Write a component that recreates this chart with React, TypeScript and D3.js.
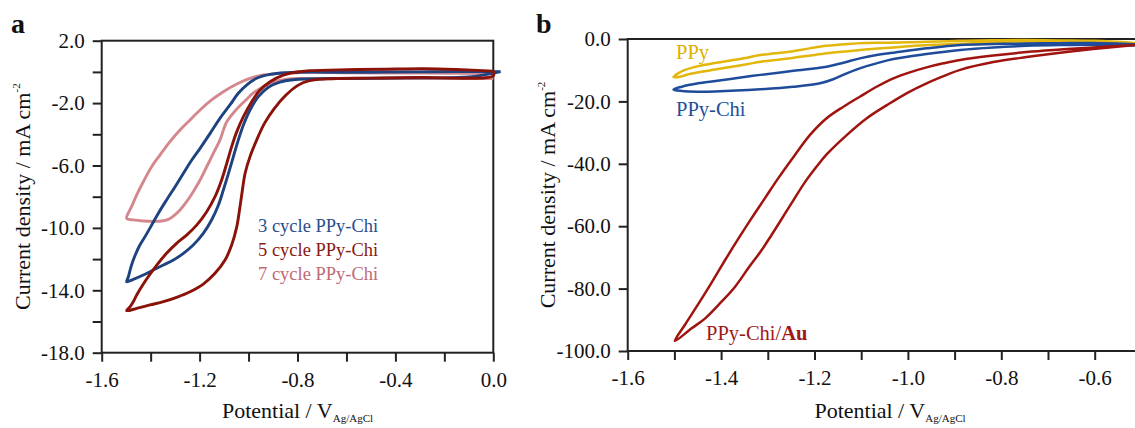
import { useEffect, useRef } from 'react';
import * as d3 from 'd3';

type Pt = [number, number];

// panel a: potential (V vs Ag/AgCl), current density (mA cm-2); upper branch from the right end to the tip, then back
const cycle3: Pt[] = [
  [0.03, 0.02], [-0.15, 0.02], [-0.3, 0.0], [-0.45, -0.01], [-0.6, -0.03], [-0.749, -0.01], [-0.844, -0.05],
  [-0.912, -0.16], [-0.967, -0.41], [-1.008, -0.84], [-1.042, -1.37], [-1.076, -2.12], [-1.117, -2.98],
  [-1.157, -3.94], [-1.198, -4.9], [-1.232, -5.65], [-1.266, -6.5], [-1.3, -7.36], [-1.335, -8.21],
  [-1.369, -9.07], [-1.396, -9.82], [-1.423, -10.56], [-1.444, -11.1], [-1.46, -11.63], [-1.471, -12.06],
  [-1.482, -12.59], [-1.491, -13.13], [-1.498, -13.45],
  [-1.471, -13.3], [-1.43, -13.02], [-1.389, -12.7], [-1.348, -12.38], [-1.307, -12.06], [-1.266, -11.63],
  [-1.226, -11.1], [-1.185, -10.35], [-1.151, -9.49], [-1.123, -8.53], [-1.103, -7.57], [-1.082, -6.5],
  [-1.062, -5.43], [-1.042, -4.37], [-1.021, -3.4], [-0.994, -2.44], [-0.96, -1.59], [-0.919, -0.98],
  [-0.872, -0.65], [-0.817, -0.5], [-0.749, -0.45], [-0.6, -0.42], [-0.3, -0.38], [-0.1, -0.33], [0.03, 0.02],
];
const cycle5: Pt[] = [
  [0.0, 0.05], [-0.15, 0.15], [-0.28, 0.2], [-0.45, 0.17], [-0.6, 0.14], [-0.749, 0.08], [-0.79, 0.02],
  [-0.858, -0.2], [-0.912, -0.63], [-0.953, -1.16], [-0.987, -1.91], [-1.021, -2.87], [-1.048, -3.83],
  [-1.069, -4.79], [-1.089, -5.86], [-1.11, -6.93], [-1.137, -8.0], [-1.171, -8.96], [-1.212, -9.82],
  [-1.253, -10.46], [-1.294, -10.99], [-1.335, -11.63], [-1.375, -12.38], [-1.41, -13.13], [-1.437, -13.77],
  [-1.457, -14.3], [-1.471, -14.73], [-1.484, -15.05], [-1.498, -15.31],
  [-1.457, -15.16], [-1.403, -14.94], [-1.348, -14.73], [-1.294, -14.45], [-1.239, -14.09], [-1.185, -13.6],
  [-1.137, -12.91], [-1.096, -12.06], [-1.069, -11.1], [-1.048, -9.92], [-1.037, -8.85], [-1.027, -7.78],
  [-1.014, -6.5], [-0.994, -5.43], [-0.967, -4.37], [-0.935, -3.3], [-0.895, -2.35], [-0.848, -1.5],
  [-0.8, -0.88], [-0.755, -0.58], [-0.68, -0.45], [-0.5, -0.4], [-0.3, -0.35], [0.0, -0.25], [0.0, 0.05],
];
const cycle7: Pt[] = [
  [0.0, -0.1], [-0.3, -0.08], [-0.6, -0.05], [-0.749, -0.03], [-0.8, -0.05], [-0.872, -0.1], [-0.94, -0.2],
  [-0.994, -0.41], [-1.048, -0.78], [-1.103, -1.27], [-1.151, -1.8], [-1.198, -2.44], [-1.239, -3.08],
  [-1.28, -3.73], [-1.321, -4.47], [-1.362, -5.33], [-1.396, -6.08], [-1.43, -7.04], [-1.457, -7.89],
  [-1.478, -8.64], [-1.498, -9.39],
  [-1.471, -9.49], [-1.43, -9.56], [-1.389, -9.58], [-1.355, -9.56], [-1.328, -9.45], [-1.307, -9.24],
  [-1.28, -8.85], [-1.253, -8.32], [-1.226, -7.68], [-1.198, -6.93], [-1.171, -6.08], [-1.144, -5.22],
  [-1.117, -4.37], [-1.089, -3.2], [-1.052, -2.45], [-1.014, -1.85], [-0.98, -1.35], [-0.94, -0.95],
  [-0.899, -0.66], [-0.844, -0.47], [-0.79, -0.42], [-0.7, -0.42], [-0.5, -0.43], [-0.3, -0.43], [0.0, -0.42],
];

// panel b
const ppy: Pt[] = [
  [-0.51, -1.3], [-0.6, -0.6], [-0.674, -0.45], [-0.75, -0.35], [-0.82, -0.4], [-0.89, -0.6], [-0.96, -0.9],
  [-1.02, -1.1], [-1.056, -1.2], [-1.092, -1.3], [-1.128, -1.6], [-1.174, -2.2], [-1.21, -3.0],
  [-1.25, -4.0], [-1.284, -4.6], [-1.316, -5.1], [-1.342, -5.9], [-1.377, -6.8], [-1.413, -7.7],
  [-1.449, -8.7], [-1.477, -9.9], [-1.492, -11.0], [-1.502, -12.2],
  [-1.488, -12.07], [-1.47, -11.32], [-1.442, -10.5], [-1.413, -9.8], [-1.377, -8.9], [-1.342, -8.0],
  [-1.316, -7.3], [-1.27, -6.5], [-1.235, -5.8], [-1.199, -5.1], [-1.174, -4.6], [-1.128, -3.9],
  [-1.085, -3.3], [-1.031, -2.7], [-0.985, -2.2], [-0.94, -1.85], [-0.888, -1.55],
  [-0.817, -1.0], [-0.674, -0.7], [-0.6, -0.8], [-0.51, -1.3],
];
const ppyChi: Pt[] = [
  [-0.51, -1.7], [-0.603, -1.3], [-0.674, -1.35], [-0.746, -1.45], [-0.817, -1.6], [-0.888, -1.9],
  [-0.96, -3.0], [-1.031, -4.4], [-1.067, -5.1], [-1.103, -6.2], [-1.138, -7.6], [-1.174, -8.9],
  [-1.245, -10.2], [-1.316, -11.5], [-1.38, -12.8], [-1.42, -13.6], [-1.449, -14.21], [-1.484, -15.28], [-1.502, -16.2],
  [-1.484, -16.67], [-1.449, -16.88], [-1.413, -16.8], [-1.316, -16.1], [-1.245, -15.3], [-1.188, -14.2],
  [-1.16, -12.9], [-1.131, -11.0], [-1.103, -9.4], [-1.067, -7.8], [-1.031, -6.4], [-0.96, -4.8],
  [-0.888, -3.5], [-0.817, -2.7], [-0.746, -2.2], [-0.674, -1.95], [-0.603, -1.85], [-0.51, -2.1],
];
const ppyChiAu: Pt[] = [
  [-0.51, -1.9], [-0.603, -2.7], [-0.674, -3.4], [-0.746, -4.2], [-0.817, -5.3], [-0.888, -6.7],
  [-0.924, -7.8], [-0.96, -9.1], [-0.996, -10.7], [-1.031, -12.6], [-1.067, -15.3], [-1.103, -18.5],
  [-1.138, -21.7], [-1.174, -25.4], [-1.21, -30.8], [-1.245, -37.8], [-1.2775, -44.6], [-1.306, -51.0],
  [-1.335, -57.5], [-1.363, -64.0], [-1.392, -71.0], [-1.42, -78.0], [-1.449, -85.0], [-1.477, -91.5],
  [-1.499, -96.79],
  [-1.463, -92.74], [-1.434, -89.53], [-1.399, -84.19], [-1.37, -79.38], [-1.342, -73.5], [-1.313, -67.63],
  [-1.292, -62.82], [-1.27, -57.6], [-1.249, -52.6], [-1.22, -45.8], [-1.195, -40.8], [-1.174, -37.0],
  [-1.131, -30.8], [-1.088, -25.4], [-1.045, -21.2], [-1.003, -17.4], [-0.96, -14.2], [-0.917, -11.5],
  [-0.888, -9.9], [-0.817, -7.4], [-0.746, -5.8], [-0.674, -4.4], [-0.603, -3.2], [-0.51, -1.9],
];

const aXTicks = [-1.6, -1.4, -1.2, -1.0, -0.8, -0.6, -0.4, -0.2, 0.0];
const aXLabels = [-1.6, -1.2, -0.8, -0.4, 0.0];
const aYTicks = [2, 0, -2, -4, -6, -8, -10, -12, -14, -16, -18];
const aYLabels = [2, -2, -6, -10, -14, -18];
const bXTicks = [-1.6, -1.5, -1.4, -1.3, -1.2, -1.1, -1.0, -0.9, -0.8, -0.7, -0.6];
const bXLabels = [-1.6, -1.4, -1.2, -1.0, -0.8, -0.6];
const bYTicks = [0, -20, -40, -60, -80, -100];

const legendA = ['3 cycle PPy-Chi', '5 cycle PPy-Chi', '7 cycle PPy-Chi'];

const SERIF = '"Liberation Serif", "Times New Roman", Times, serif';
const AXIS = '#222';

export default function App() {
  const svgRef = useRef<SVGSVGElement>(null);

  useEffect(() => {
    if (!svgRef.current) return;
    const svg = d3.select(svgRef.current);
    svg.selectAll('*').remove();

    const labelFmt = (labels: number[]) => (d: any) =>
      labels.some((l) => Math.abs(l - d) < 1e-6) ? (+d).toFixed(1) : '';

    const styleAxis = (g: any) => {
      g.select('.domain').remove();
      g.selectAll('.tick line').attr('stroke', AXIS).attr('stroke-width', 2);
      g.selectAll('.tick text').attr('font-family', SERIF).attr('font-size', 21).attr('fill', '#111');
    };

    const line = (x: any, y: any) =>
      d3.line<Pt>().x((d) => x(d[0])).y((d) => y(d[1])).curve(d3.curveCatmullRom.alpha(0.5));

    const axisTitles = (g: any, cx: number, cy: number, xTitleY: number, yTitleX: number) => {
      const xt = g.append('text').attr('x', cx).attr('y', xTitleY).attr('text-anchor', 'middle')
        .attr('font-family', SERIF).attr('font-size', 22).attr('fill', '#111');
      xt.append('tspan').text('Potential / V');
      xt.append('tspan').attr('font-size', 11).attr('dy', 4).text('Ag/AgCl');

      const yt = g.append('text').attr('transform', `translate(${yTitleX},${cy}) rotate(-90)`)
        .attr('text-anchor', 'middle').attr('font-family', SERIF).attr('font-size', 22).attr('fill', '#111');
      yt.append('tspan').text('Current density / mA cm');
      yt.append('tspan').attr('font-size', 11).attr('dy', -10).text('-2');
    };

    // ---------- panel a ----------
    const xa = d3.scaleLinear().domain([-1.6, 0]).range([101.7, 493.3]);
    const ya = d3.scaleLinear().domain([-18, 2]).range([352.7, 40.7]);
    const ga = svg.append('g');

    ga.append('g').attr('transform', `translate(0,${ya(-18)})`)
      .call(d3.axisBottom(xa).tickValues(aXTicks).tickFormat(labelFmt(aXLabels)).tickSizeInner(9).tickSizeOuter(0).tickPadding(10))
      .call(styleAxis);
    ga.append('g').attr('transform', `translate(${xa(-1.6)},0)`)
      .call(d3.axisLeft(ya).tickValues(aYTicks).tickFormat(labelFmt(aYLabels)).tickSizeInner(9).tickSizeOuter(0).tickPadding(8))
      .call(styleAxis);
    ga.append('rect')
      .attr('x', xa(-1.6)).attr('y', ya(2))
      .attr('width', xa(0) - xa(-1.6)).attr('height', ya(-18) - ya(2))
      .attr('fill', 'none').attr('stroke', AXIS).attr('stroke-width', 2);

    const la = line(xa, ya);
    [
      { d: cycle7, c: '#d4878d' },
      { d: cycle3, c: '#1f4381' },
      { d: cycle5, c: '#8a1208' },
    ].forEach((s) => {
      ga.append('path').attr('d', la(s.d)).attr('fill', 'none').attr('stroke', s.c)
        .attr('stroke-width', 2.9).attr('stroke-linejoin', 'round');
    });

    const legendColors = ['#2b4e8c', '#8b1a12', '#bd6b75'];
    legendA.forEach((t, i) => {
      ga.append('text').attr('x', 258).attr('y', 232 + i * 24.2)
        .attr('font-family', SERIF).attr('font-size', 18.5).attr('fill', legendColors[i]).text(t);
    });

    axisTitles(ga, 297.5, 196.7, 418, 30);
    ga.append('text').attr('x', 11).attr('y', 33).attr('font-family', SERIF).attr('font-weight', 'bold')
      .attr('font-size', 28).attr('fill', '#111').text('a');

    // ---------- panel b ----------
    const xb = d3.scaleLinear().domain([-1.6, -0.6]).range([627.7, 1094.7]);
    const yb = d3.scaleLinear().domain([-100, 0]).range([351, 39]);
    const gb = svg.append('g');

    gb.append('g').attr('transform', `translate(0,${yb(-100)})`)
      .call(d3.axisBottom(xb).tickValues(bXTicks).tickFormat(labelFmt(bXLabels)).tickSizeInner(9).tickSizeOuter(0).tickPadding(10))
      .call(styleAxis);
    gb.append('g').attr('transform', `translate(${xb(-1.6)},0)`)
      .call(d3.axisLeft(yb).tickValues(bYTicks).tickFormat(labelFmt(bYTicks)).tickSizeInner(9).tickSizeOuter(0).tickPadding(8))
      .call(styleAxis);
    gb.append('path')
      .attr('d', `M1135,${yb(0)}H${xb(-1.6)}V${yb(-100)}H1135`)
      .attr('fill', 'none').attr('stroke', AXIS).attr('stroke-width', 2);

    const lb = line(xb, yb);
    [
      { d: ppy, c: '#e2b60a' },
      { d: ppyChi, c: '#1f4c9a' },
      { d: ppyChiAu, c: '#a01410' },
    ].forEach((s) => {
      gb.append('path').attr('d', lb(s.d)).attr('fill', 'none').attr('stroke', s.c)
        .attr('stroke-width', 2.5).attr('stroke-linejoin', 'round');
    });

    gb.append('text').attr('x', 676).attr('y', 59).attr('font-family', SERIF).attr('font-size', 20.5)
      .attr('fill', '#dcb000').text('PPy');
    gb.append('text').attr('x', 676).attr('y', 116).attr('font-family', SERIF).attr('font-size', 20.5)
      .attr('fill', '#234e98').text('PPy-Chi');
    const au = gb.append('text').attr('x', 706).attr('y', 340).attr('font-family', SERIF).attr('font-size', 20.5)
      .attr('fill', '#a01818');
    au.append('tspan').text('PPy-Chi/');
    au.append('tspan').attr('font-weight', 'bold').text('Au');

    axisTitles(gb, 890, 195, 418, 555);
    gb.append('text').attr('x', 536).attr('y', 33).attr('font-family', SERIF).attr('font-weight', 'bold')
      .attr('font-size', 28).attr('fill', '#111').text('b');
  }, []);

  return (
    <svg
      ref={svgRef}
      width={1135}
      height={428}
      style={{ position: 'absolute', left: 0, top: 0, background: '#fff' }}
    />
  );
}
